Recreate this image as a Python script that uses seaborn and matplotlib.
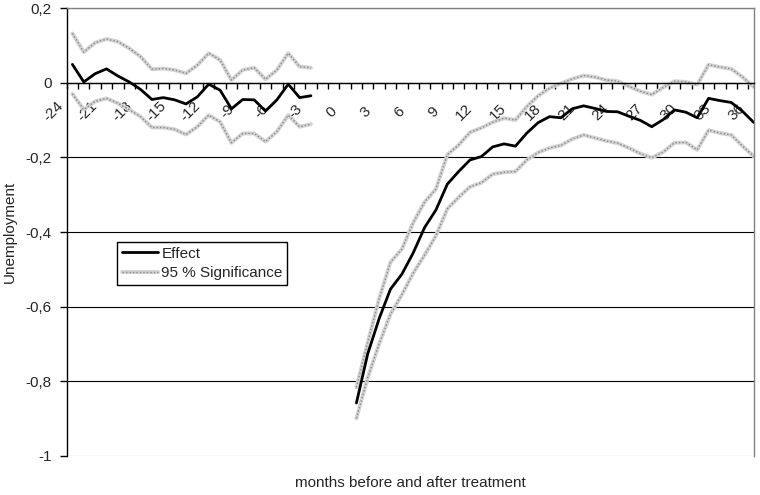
import numpy as np
import pandas as pd
import matplotlib
matplotlib.use('Agg')
import matplotlib.pyplot as plt
import matplotlib.transforms as mtransforms
from matplotlib.lines import Line2D
from matplotlib.ticker import FuncFormatter
import seaborn as sns

# --- data ---
months_pre = list(range(-24, -2))
effect_pre = [0.049, 0.002, 0.024, 0.037, 0.018, 0.002, -0.018, -0.045, -0.040, -0.046, -0.057,
              -0.038, -0.004, -0.020, -0.070, -0.045, -0.046, -0.076, -0.046, -0.004, -0.040, -0.035]
upper_pre = [0.132, 0.082, 0.107, 0.117, 0.110, 0.092, 0.070, 0.036, 0.038, 0.034, 0.025,
             0.047, 0.079, 0.061, 0.007, 0.034, 0.040, 0.009, 0.034, 0.079, 0.043, 0.040]
lower_pre = [-0.030, -0.072, -0.050, -0.042, -0.055, -0.072, -0.091, -0.120, -0.120, -0.125, -0.139,
             -0.118, -0.087, -0.105, -0.161, -0.136, -0.136, -0.158, -0.131, -0.087, -0.118, -0.111]

months_post = list(range(1, 37))
effect_post = [-0.858, -0.726, -0.632, -0.553, -0.513, -0.456, -0.388, -0.341, -0.272, -0.238,
               -0.207, -0.198, -0.172, -0.164, -0.170, -0.135, -0.107, -0.091, -0.094, -0.070,
               -0.062, -0.069, -0.077, -0.078, -0.090, -0.101, -0.118, -0.099, -0.073, -0.079,
               -0.094, -0.042, -0.048, -0.053, -0.077, -0.107]
upper_post = [-0.816, -0.695, -0.579, -0.481, -0.446, -0.375, -0.320, -0.285, -0.193, -0.167,
              -0.133, -0.121, -0.106, -0.095, -0.100, -0.064, -0.035, -0.015, -0.002, 0.010,
              0.019, 0.015, 0.007, 0.004, -0.010, -0.023, -0.032, -0.013, 0.004, 0.002,
              -0.005, 0.048, 0.042, 0.037, 0.015, -0.012]
lower_post = [-0.899, -0.790, -0.700, -0.620, -0.568, -0.510, -0.462, -0.410, -0.338, -0.307,
              -0.279, -0.268, -0.245, -0.240, -0.238, -0.207, -0.187, -0.175, -0.168, -0.151,
              -0.140, -0.148, -0.156, -0.162, -0.175, -0.190, -0.201, -0.186, -0.161, -0.160,
              -0.180, -0.127, -0.135, -0.140, -0.170, -0.198]

x_labels = list(range(-24, 37, 3))
y_ticks = [0.2, 0, -0.2, -0.4, -0.6, -0.8, -1]

pre = pd.DataFrame({'month': months_pre, 'effect': effect_pre, 'upper': upper_pre, 'lower': lower_pre})
post = pd.DataFrame({'month': months_post, 'effect': effect_post, 'upper': upper_post, 'lower': lower_post})

sns.set_style('white')
plt.rcParams['font.family'] = ['Liberation Sans', 'DejaVu Sans']

fig = plt.figure(figsize=(7.6, 4.95), dpi=100)
ax = fig.add_axes([0.0878, 0.0788, 0.9043, 0.905])

sig_light = dict(color='#d2d2d2', linewidth=2.8, zorder=3)
sig_dots = dict(color='#8a8a8a', linewidth=1.0, linestyle=(0, (1, 1.5)), zorder=4)

for df in (pre, post):
    for col in ('upper', 'lower'):
        sns.lineplot(data=df, x='month', y=col, ax=ax, **sig_light)
        sns.lineplot(data=df, x='month', y=col, ax=ax, **sig_dots)
    sns.lineplot(data=df, x='month', y='effect', ax=ax, color='black', linewidth=2.0, zorder=5)

# axes limits and frame
ax.set_xlim(-24.5, 36)
ax.set_ylim(-1, 0.2)
ax.spines['bottom'].set_position(('data', 0))
ax.spines['bottom'].set_color('black')
ax.spines['left'].set_color('black')
for s in ('top', 'right'):
    ax.spines[s].set_color('#808080')
for s in ax.spines.values():
    s.set_linewidth(1)
    s.set_zorder(6)

# y axis
ax.set_yticks(y_ticks)
ax.yaxis.set_major_formatter(FuncFormatter(lambda v, p: f"{v:g}".replace('.', ',')))
ax.tick_params(axis='y', length=5, width=1, direction='out', pad=6, labelsize=11, left=True, color='black')
ax.yaxis.grid(True, color='black', linewidth=0.8)
for line, v in zip(ax.get_ygridlines(), y_ticks):
    if v in (0.2, -1):
        line.set_color('#808080')

# x axis: labels every 3 months, tick marks between months
ax.set_xticks(x_labels)
ax.set_xticklabels([str(m) for m in x_labels])
ax.set_xticks(np.arange(-24.5, 36, 1), minor=True)
ax.tick_params(axis='x', which='major', length=0, pad=21, labelsize=11, bottom=True)
ax.tick_params(axis='x', which='minor', length=4.5, width=1, direction='out', color='black', bottom=True)
shift = mtransforms.ScaledTranslation(-6 / 100, 0, fig.dpi_scale_trans)
for lab in ax.get_xticklabels():
    lab.set_rotation(45)
    lab.set_ha('right')
    lab.set_va('center')
    lab.set_transform(lab.get_transform() + shift)

ax.set_xlabel('months before and after treatment', fontsize=11)
ax.xaxis.set_label_coords(0.5, -0.045)
ax.set_ylabel('Unemployment', fontsize=11)
ax.yaxis.set_label_coords(-0.072, 0.5)

# legend
h_eff = Line2D([], [], color='black', linewidth=2.0)
h_sig = (Line2D([], [], **{k: v for k, v in sig_light.items() if k != 'zorder'}),
         Line2D([], [], **{k: v for k, v in sig_dots.items() if k != 'zorder'}))
leg = ax.legend([h_eff, h_sig], ['Effect', '95 % Significance'], loc='upper left',
                bbox_to_anchor=(0.0732, 0.4777), borderaxespad=0, fontsize=11,
                frameon=True, fancybox=False, framealpha=1, edgecolor='black',
                handlelength=2.4, handletextpad=0.2, borderpad=0.3, labelspacing=0.35)
leg.get_frame().set_linewidth(1)

fig.savefig('out.png', dpi=100)
